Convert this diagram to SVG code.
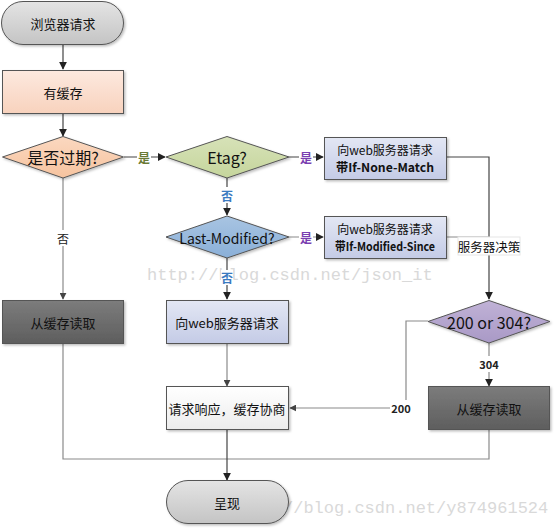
<svg xmlns="http://www.w3.org/2000/svg" width="554" height="528" viewBox="0 0 554 528">
<defs>
<linearGradient id="gGray" x1="0" y1="0" x2="0" y2="1"><stop offset="0" stop-color="#e4e4e4"/><stop offset="1" stop-color="#c4c4c4"/></linearGradient>
<linearGradient id="gPeach" x1="0" y1="0" x2="0" y2="1"><stop offset="0" stop-color="#fde9df"/><stop offset="1" stop-color="#f8d2bd"/></linearGradient>
<linearGradient id="gOrange" x1="0" y1="0" x2="0" y2="1"><stop offset="0" stop-color="#fbd8c0"/><stop offset="1" stop-color="#f6c39f"/></linearGradient>
<linearGradient id="gGreen" x1="0" y1="0" x2="0" y2="1"><stop offset="0" stop-color="#d7e2b8"/><stop offset="1" stop-color="#c5d59c"/></linearGradient>
<linearGradient id="gBlue" x1="0" y1="0" x2="0" y2="1"><stop offset="0" stop-color="#e3e7f4"/><stop offset="1" stop-color="#c4cbe6"/></linearGradient>
<linearGradient id="gSky" x1="0" y1="0" x2="0" y2="1"><stop offset="0" stop-color="#a8c4e2"/><stop offset="1" stop-color="#8aafd8"/></linearGradient>
<linearGradient id="gPurple" x1="0" y1="0" x2="0" y2="1"><stop offset="0" stop-color="#c0b2d6"/><stop offset="1" stop-color="#a999c6"/></linearGradient>
<linearGradient id="gDark" x1="0" y1="0" x2="0" y2="1"><stop offset="0" stop-color="#7c7c7c"/><stop offset="1" stop-color="#5e5e5e"/></linearGradient>
<linearGradient id="gWhite" x1="0" y1="0" x2="0" y2="1"><stop offset="0" stop-color="#ffffff"/><stop offset="1" stop-color="#ececec"/></linearGradient>
<filter id="sh" x="-10%" y="-10%" width="130%" height="140%"><feDropShadow dx="1.5" dy="1.5" stdDeviation="1" flood-color="#000" flood-opacity="0.25"/></filter>
<marker id="ah" viewBox="0 0 10 10" refX="9" refY="5" markerWidth="8" markerHeight="8" markerUnits="userSpaceOnUse" orient="auto"><path d="M0,0 L10,5 L0,10 z" fill="#222"/></marker>
<marker id="ahg" viewBox="0 0 10 10" refX="9" refY="5" markerWidth="7" markerHeight="7" markerUnits="userSpaceOnUse" orient="auto"><path d="M0,0 L10,5 L0,10 z" fill="#444"/></marker>
</defs>
<style>
.n{stroke:#555;stroke-width:1;filter:url(#sh)}
.t{font-family:"Noto Sans CJK SC",sans-serif;font-size:13px;fill:#111;text-anchor:middle;dominant-baseline:central}
.t2{font-family:"Noto Sans CJK SC",sans-serif;font-size:12px;fill:#111;text-anchor:middle;dominant-baseline:central}
.td{font-family:"Noto Sans CJK SC",sans-serif;font-size:16px;fill:#111;text-anchor:middle;dominant-baseline:central}
.c{fill:none;stroke:#444;stroke-width:1.2}
.cg{fill:none;stroke:#8a8a8a;stroke-width:1.2}
.lb{font-family:"Noto Sans CJK SC",sans-serif;font-size:12px;text-anchor:middle;dominant-baseline:central;font-weight:bold}
.wm{font-family:"Liberation Mono",monospace;font-size:17px;fill:#d9d9d9}
</style>
<g id="connectors">
<path class="c" d="M63,45 V69" marker-end="url(#ah)"/>
<path class="c" d="M63,114 V136" marker-end="url(#ah)"/>
<path class="c" d="M124,157 H165" marker-end="url(#ah)"/>
<path class="c" d="M289,157 H323" marker-end="url(#ah)"/>
<path class="c" d="M447,157 H489 V299" marker-end="url(#ah)"/>
<path class="cg" d="M447,237 H489"/>
<path class="c" d="M227,178 V215" marker-end="url(#ah)"/>
<path class="cg" d="M289,237 H323" marker-end="url(#ah)"/>
<path class="c" d="M227,258 V299" marker-end="url(#ah)"/>
<path class="cg" d="M63,178 V299" marker-end="url(#ahg)"/>
<path class="cg" d="M227,343 V386" marker-end="url(#ahg)"/>
<path class="cg" d="M428,321 H406 V408 H290" marker-end="url(#ahg)"/>
<path class="cg" d="M489,343 V386" marker-end="url(#ah)"/>
<path class="cg" d="M63,343 V459 H227"/>
<path class="cg" d="M489,430 V459 H227"/>
<path class="c" d="M227,430 V480" marker-end="url(#ah)"/>
</g>
<g id="watermarks">
<text class="wm" x="147" y="280">http://blog.csdn.net/json_it</text>
<text class="wm" x="232" y="513">http://blog.csdn.net/y874961524</text>
</g>
<g id="labels">
<rect x="137" y="149" width="14" height="16" fill="#fff"/><text class="lb" x="144" y="157" fill="#6a7a35">是</text>
<rect x="299" y="149" width="14" height="16" fill="#fff"/><text class="lb" x="306" y="157" fill="#7a3fb0">是</text>
<rect x="220" y="187" width="14" height="16" fill="#fff"/><text class="lb" x="227" y="195" fill="#3a7ac0">否</text>
<rect x="299" y="229" width="14" height="16" fill="#fff"/><text class="lb" x="306" y="237" fill="#7a3fb0">是</text>
<rect x="221" y="270" width="12" height="15" fill="#fff"/><text class="lb" x="227" y="277" fill="#3a7ac0">否</text>
<rect x="56" y="230" width="14" height="16" fill="#fff"/><text class="lb" x="63" y="238" fill="#222" style="font-weight:normal">否</text>
<rect x="458" y="237" width="62" height="18" fill="#fff" stroke="#e6e6e6"/><text class="lb" x="489" y="246" fill="#111" style="font-weight:normal;font-size:12.5px">服务器决策</text>
<rect x="478" y="356" width="22" height="16" fill="#fff"/><text class="lb" x="489" y="364" fill="#222" style="font-size:11px">304</text>
<rect x="390" y="400" width="22" height="16" fill="#fff"/><text class="lb" x="401" y="408" fill="#222" style="font-size:11px">200</text>
</g>
<g id="start"><rect class="n" x="1.5" y="1.5" width="122" height="43" rx="21.5" fill="url(#gGray)"/><text class="t" x="63" y="23">浏览器请求</text></g>
<g id="hascache"><rect class="n" x="2.5" y="70.5" width="121" height="43" fill="url(#gPeach)"/><text class="t" x="63" y="92">有缓存</text></g>
<g id="expired"><path class="n" d="M63,136.5 L123.5,157 L63,178 L2.5,157 Z" fill="url(#gOrange)"/><text class="td" x="63" y="157">是否过期?</text></g>
<g id="etag"><path class="n" d="M227,136.5 L289,157 L227,178 L166,157 Z" fill="url(#gGreen)"/><text class="td" x="227" y="157">Etag?</text></g>
<g id="nonematch"><rect class="n" x="324.5" y="137.5" width="122" height="42" fill="url(#gBlue)"/><text class="t2" x="385" y="149">向web服务器请求</text><text class="t2" x="385" y="166" font-weight="bold" textLength="98" lengthAdjust="spacingAndGlyphs">带If-None-Match</text></g>
<g id="lastmod"><path class="n" d="M227,216 L289,237 L227,258 L166,237 Z" fill="url(#gSky)"/><text class="t" x="227" y="238" style="font-size:14px">Last-Modified?</text></g>
<g id="modsince"><rect class="n" x="324.5" y="216.5" width="122" height="42" fill="url(#gBlue)"/><text class="t2" x="385" y="228">向web服务器请求</text><text class="t2" x="385" y="245" font-weight="bold" textLength="100" lengthAdjust="spacingAndGlyphs">带If-Modified-Since</text></g>
<g id="readcache1"><rect class="n" x="2.5" y="300.5" width="121" height="43" fill="url(#gDark)"/><text class="t" x="63" y="322">从缓存读取</text></g>
<g id="request"><rect class="n" x="166.5" y="300.5" width="122" height="43" fill="url(#gBlue)"/><text class="t" x="227" y="322">向web服务器请求</text></g>
<g id="decision"><path class="n" d="M489,300.5 L550,321.5 L489,343 L428,321.5 Z" fill="url(#gPurple)"/><text class="td" x="489" y="321.5">200 or 304?</text></g>
<g id="response"><rect class="n" x="166.5" y="386.5" width="122" height="43" fill="url(#gWhite)"/><text class="t" x="227" y="408">请求响应，缓存协商</text></g>
<g id="readcache2"><rect class="n" x="428.5" y="386.5" width="121" height="43" fill="url(#gDark)"/><text class="t" x="489" y="408">从缓存读取</text></g>
<g id="render"><rect class="n" x="166.5" y="480.5" width="122" height="43" rx="21.5" fill="url(#gGray)"/><text class="t" x="227" y="502">呈现</text></g>
</svg>
